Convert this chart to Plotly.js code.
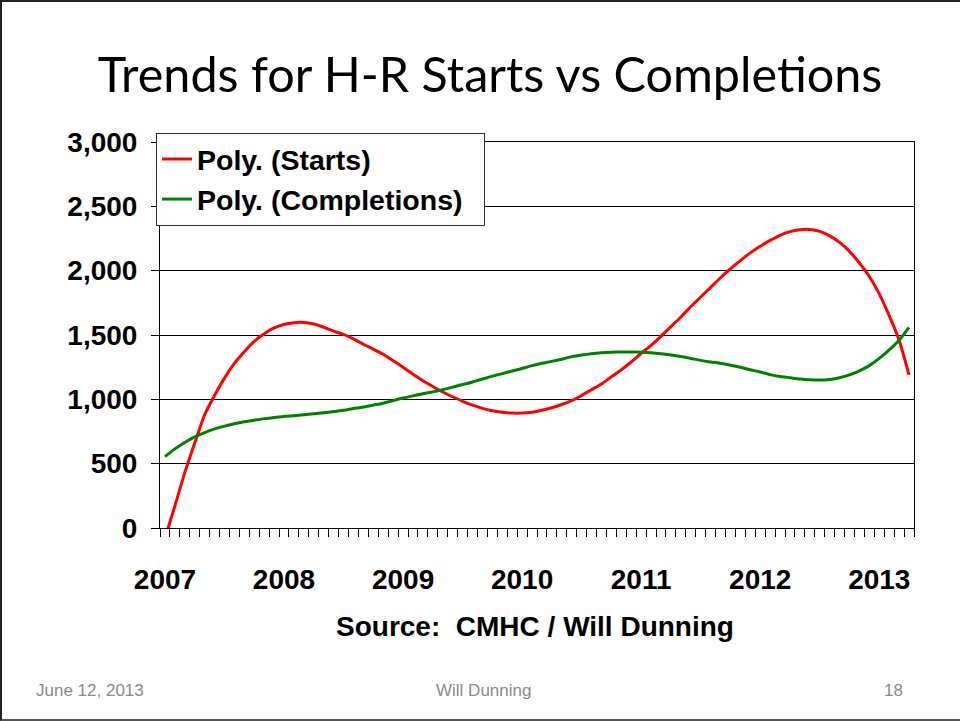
<!DOCTYPE html>
<html>
<head>
<meta charset="utf-8">
<script src="https://cdn.plot.ly/plotly-3.0.1.min.js"></script>
<style>
  html, body { margin: 0; padding: 0; background: #fff; }
  #wrap { position: relative; width: 960px; height: 721px; }
  #chart { width: 960px; height: 721px; }
  #frame { position: absolute; left: 0; top: 0; width: 960px; height: 721px; box-sizing: border-box;
           border-left: 2px solid #222; border-top: 2px solid #222; border-bottom: 2px solid #555; pointer-events: none; }
</style>
</head>
<body>
<div id="wrap"><div id="chart"></div><div id="frame"></div></div>
<script>
// Monthly trend values, Jan 2007 .. Apr 2013 (76 months)
var yearLabels = ["2007", "2008", "2009", "2010", "2011", "2012", "2013"];
var yearTickIndex = [0, 12, 24, 36, 48, 60, 72];

var startsPoly = [
  -80, 170, 430, 660, 880, 1030, 1165, 1280, 1370, 1450, 1510, 1555,
  1582, 1596, 1598, 1585, 1560, 1530, 1505, 1470, 1428, 1390, 1350, 1300,
  1250, 1195, 1145, 1100, 1057, 1020, 985, 955, 930, 912, 900, 893,
  893, 900, 915, 935, 960, 990, 1030, 1075, 1120, 1175, 1230, 1290,
  1358, 1420, 1490, 1565, 1640, 1720, 1795, 1870, 1945, 2015, 2078, 2138,
  2190, 2235, 2275, 2303, 2318, 2320, 2305, 2270, 2220, 2150, 2060, 1955,
  1820, 1650, 1460, 1190
];

var completionsPoly = [
  555, 615, 665, 708, 742, 770, 792, 810, 825, 838, 850, 858,
  866, 873, 880, 888, 896, 905, 915, 928, 940, 955, 970, 990,
  1010, 1027, 1043, 1058, 1075, 1095, 1115, 1135, 1158, 1180, 1200, 1220,
  1240, 1262, 1280, 1295, 1312, 1332, 1345, 1355, 1362, 1366, 1368, 1368,
  1366, 1362, 1355, 1345, 1333, 1318, 1303, 1290, 1280, 1265, 1250, 1230,
  1212, 1192, 1178, 1168, 1158, 1152, 1150, 1155, 1168, 1190, 1222, 1262,
  1318, 1385, 1460, 1560
];

var monthIndex = startsPoly.map(function (v, i) { return i; });

var boldFont = "Liberation Sans, Arial, sans-serif";

var traces = [
  { x: monthIndex, y: startsPoly, type: "scatter", mode: "lines", name: "<b>Poly. (Starts)</b>",
    line: { color: "#ff0000", width: 3, shape: "spline", smoothing: 0.6 } },
  { x: monthIndex, y: completionsPoly, type: "scatter", mode: "lines", name: "<b>Poly. (Completions)</b>&nbsp;&nbsp;",
    line: { color: "#008000", width: 3, shape: "spline", smoothing: 0.6 } }
];

var layout = {
  width: 960, height: 721,
  margin: { l: 160, r: 46, t: 142, b: 193 },
  paper_bgcolor: "#ffffff", plot_bgcolor: "#ffffff",
  showlegend: true,
  title: { text: "Trends for H-R Starts vs Completions", xref: "container", yref: "container",
           x: 0.5105, xanchor: "center", y: 1 - 75 / 721, yanchor: "middle",
           font: { family: "Lato, sans-serif", size: 48.5, color: "#000" } },
  xaxis: {
    range: [-0.5, 75.5], fixedrange: true,
    tickmode: "array", tickvals: yearTickIndex, ticktext: yearLabels.map(function (s) { return "<b>" + s + "</b>"; }),
    ticks: "", showgrid: false, zeroline: false,
    showline: true, linecolor: "#000", linewidth: 1, mirror: true,
    tickfont: { family: boldFont, size: 28, color: "#000" },
    ticklabelstandoff: 26,
    minor: { tickmode: "linear", tick0: -0.5, dtick: 1, ticks: "outside", ticklen: 8, tickcolor: "#000", tickwidth: 1, showgrid: false }
  },
  yaxis: {
    range: [0, 3000], fixedrange: true,
    tickmode: "linear", tick0: 0, dtick: 500,
    tickformat: ",d",
    ticks: "outside", ticklen: 8, tickcolor: "#000",
    showgrid: true, gridcolor: "#000", gridwidth: 1, zeroline: false,
    showline: true, linecolor: "#000", linewidth: 1, mirror: true,
    tickfont: { family: boldFont, size: 28, color: "#000", weight: "bold" },
    ticklabelstandoff: 8
  },
  legend: {
    x: -4 / 754, y: (528 - 133) / 386, xanchor: "left", yanchor: "top",
    bgcolor: "#ffffff", bordercolor: "#333", borderwidth: 1,
    font: { family: boldFont, size: 28.5, color: "#000" }
  },
  annotations: [
    { text: "<b>Source:  CMHC / Will Dunning</b>", xref: "paper", yref: "paper",
      x: (535 - 160) / 754, y: (528 - 626) / 386, xanchor: "center", yanchor: "middle",
      showarrow: false, font: { family: boldFont, size: 28, color: "#000" } },
    { text: "June 12, 2013", xref: "paper", yref: "paper",
      x: (34 - 160) / 754, y: (528 - 690) / 386, xanchor: "left", yanchor: "middle",
      showarrow: false, font: { family: "Liberation Sans, Arial, sans-serif", size: 17, color: "#8a8a8a" } },
    { text: "Will Dunning", xref: "paper", yref: "paper",
      x: (483 - 160) / 754, y: (528 - 690) / 386, xanchor: "center", yanchor: "middle",
      showarrow: false, font: { family: "Liberation Sans, Arial, sans-serif", size: 17, color: "#8a8a8a" } },
    { text: "18", xref: "paper", yref: "paper",
      x: (905 - 160) / 754, y: (528 - 690) / 386, xanchor: "right", yanchor: "middle",
      showarrow: false, font: { family: "Liberation Sans, Arial, sans-serif", size: 17, color: "#8a8a8a" } }
  ]
};

Plotly.newPlot("chart", traces, layout, { displayModeBar: false, staticPlot: true });
</script>
</body>
</html>
